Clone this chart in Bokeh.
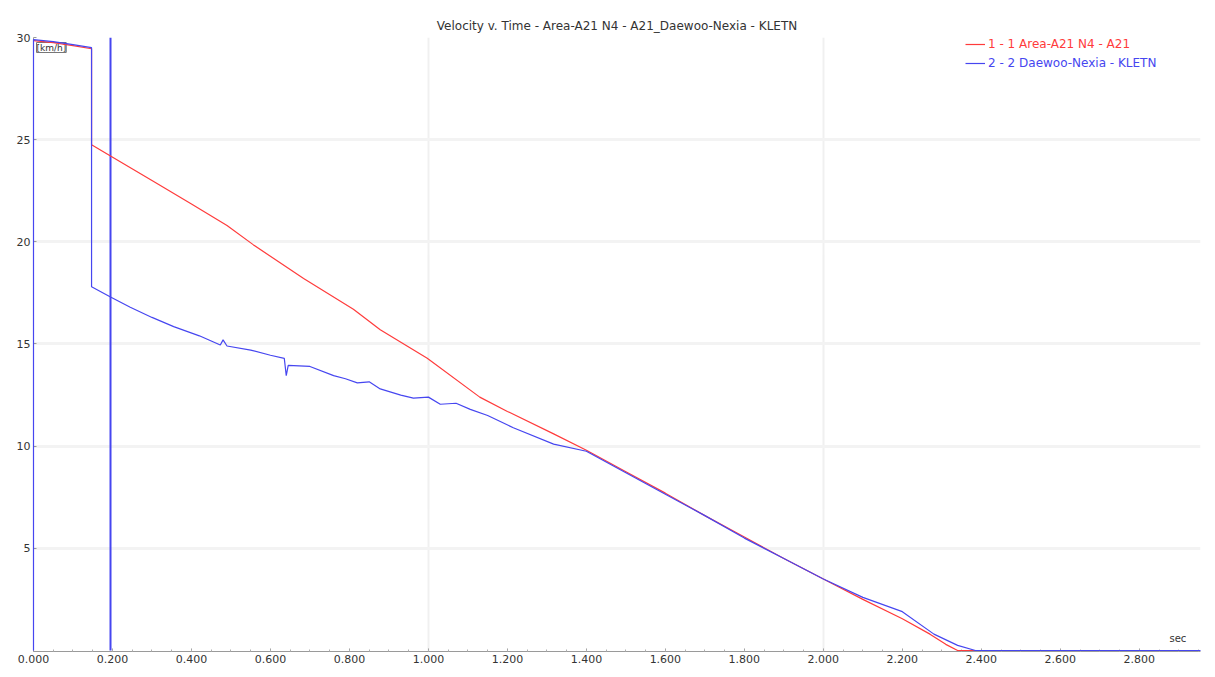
from bokeh.plotting import figure
from bokeh.models import (Range1d, FixedTicker, Label, Legend, LegendItem,
                          NumeralTickFormatter)
from bokeh.embed import file_html
from bokeh.resources import INLINE

# ---- data ----
title_text = "Velocity v. Time - Area-A21 N4 - A21_Daewoo-Nexia - KLETN"
series1_name = "1 - 1 Area-A21 N4 - A21"
series2_name = "2 - 2 Daewoo-Nexia - KLETN"
unit_label = "[km/h]"
time_label = "sec"

red_t = [0.0, 0.05, 0.10, 0.147, 0.147, 0.195, 0.30, 0.40, 0.49, 0.557, 0.684, 0.81,
         0.878, 0.997, 1.13, 1.20, 1.317, 1.40, 1.50, 1.60, 1.70, 1.80, 1.90, 2.00,
         2.10, 2.20, 2.27, 2.31, 2.34, 2.47]
red_v = [29.85, 29.75, 29.6, 29.45, 24.75, 24.2, 23.0, 21.85, 20.8, 19.85, 18.2, 16.7,
         15.7, 14.3, 12.4, 11.7, 10.6, 9.8, 8.75, 7.7, 6.6, 5.55, 4.5, 3.5,
         2.5, 1.55, 0.8, 0.3, 0.0, 0.0]

blue_t = [0.0, 0.0, 0.05, 0.10, 0.147, 0.147, 0.195, 0.245, 0.30, 0.355, 0.42, 0.473,
          0.48, 0.49, 0.55, 0.60, 0.635, 0.64, 0.645, 0.70, 0.76, 0.79, 0.82, 0.85,
          0.878, 0.93, 0.962, 1.00, 1.03, 1.07, 1.106, 1.15, 1.215, 1.317, 1.40,
          1.50, 1.60, 1.70, 1.80, 1.90, 2.00, 2.10, 2.20, 2.28, 2.34, 2.385, 2.955]
blue_v = [0.0, 29.9, 29.8, 29.65, 29.5, 17.8, 17.3, 16.8, 16.3, 15.85, 15.4, 14.95,
          15.2, 14.9, 14.7, 14.45, 14.3, 13.45, 13.95, 13.9, 13.45, 13.3, 13.1, 13.15,
          12.8, 12.5, 12.35, 12.4, 12.05, 12.1, 11.8, 11.5, 10.9, 10.1, 9.75,
          8.7, 7.65, 6.6, 5.5, 4.5, 3.5, 2.6, 1.9, 0.8, 0.25, 0.0, 0.0]

cursor_t = [0.195]
x_ticks = [0.0, 0.2, 0.4, 0.6, 0.8, 1.0, 1.2, 1.4, 1.6, 1.8, 2.0, 2.2, 2.4, 2.6, 2.8]
y_ticks = [5, 10, 15, 20, 25, 30]
vgrid_t = [1.0, 2.0]

RED = "#ff3b3b"
BLUE = "#4646f0"
FONT = "DejaVu Sans"

p = figure(width=1210, height=673, output_backend="svg", toolbar_location=None,
           x_range=Range1d(0, 2.955), y_range=Range1d(-0.05, 30),
           min_border_left=33, min_border_right=10, min_border_top=37, min_border_bottom=22)
p.background_fill_color = "white"
p.border_fill_color = "white"
p.outline_line_color = None

p.title.text = title_text
p.title.align = "center"
p.title.text_font = FONT
p.title.text_font_size = "12px"
p.title.text_font_style = "normal"
p.title.text_color = "#333333"
p.title.standoff = 10

# grids
p.xgrid.ticker = FixedTicker(ticks=vgrid_t)
p.xgrid.grid_line_color = "#f0f0f0"
p.xgrid.grid_line_width = 2
p.ygrid.ticker = FixedTicker(ticks=y_ticks)
p.ygrid.grid_line_color = "#f3f3f3"
p.ygrid.grid_line_width = 3

# axes
p.xaxis.ticker = FixedTicker(ticks=x_ticks, minor_ticks=[i * 0.05 for i in range(60)])
p.xaxis.formatter = NumeralTickFormatter(format="0.000")
p.yaxis.ticker = FixedTicker(ticks=y_ticks)
for ax in (p.xaxis, p.yaxis):
    ax.axis_line_color = "#9a9a9a"
    ax.major_tick_line_color = "#9a9a9a"
    ax.minor_tick_line_color = "#b0b0b0"
    ax.major_tick_in = 3
    ax.major_tick_out = 0
    ax.minor_tick_in = 2
    ax.minor_tick_out = 0
    ax.major_label_text_font = FONT
    ax.major_label_text_font_size = "11px"
    ax.major_label_text_color = "#333333"
    ax.major_label_standoff = 3
p.yaxis.minor_tick_line_color = None

r1 = p.line(red_t, red_v, line_color=RED, line_width=1.2, level="overlay")
r2 = p.line(blue_t, blue_v, line_color=BLUE, line_width=1.2, level="overlay")
p.segment(x0=cursor_t, y0=[0], x1=cursor_t, y1=[30], line_color=BLUE, line_width=2)

leg1 = Legend(items=[LegendItem(label=series1_name, renderers=[r1])],
              location=(932, 600), label_text_color=RED)
leg2 = Legend(items=[LegendItem(label=series2_name, renderers=[r2])],
              location=(932, 581), label_text_color=BLUE)
for lg in (leg1, leg2):
    lg.padding = 0
    lg.margin = 0
    lg.spacing = 0
    lg.glyph_width = 20
    lg.glyph_height = 12
    lg.label_height = 12
    lg.label_standoff = 3
    lg.label_text_font = FONT
    lg.label_text_font_size = "12px"
    lg.border_line_alpha = 0
    lg.background_fill_alpha = 0
    p.add_layout(lg, "center")

p.add_layout(Label(x=3, y=599, x_units="screen", y_units="screen", text=unit_label,
                   text_font=FONT, text_font_size="9px", text_color="#333333",
                   border_line_color="#777777", border_line_width=1,
                   background_fill_alpha=0.0))
p.add_layout(Label(x=1136, y=8, x_units="screen", y_units="screen", text=time_label,
                   text_font=FONT, text_font_size="10px", text_color="#333333"))

open("out.html", "w").write(file_html(p, INLINE))
